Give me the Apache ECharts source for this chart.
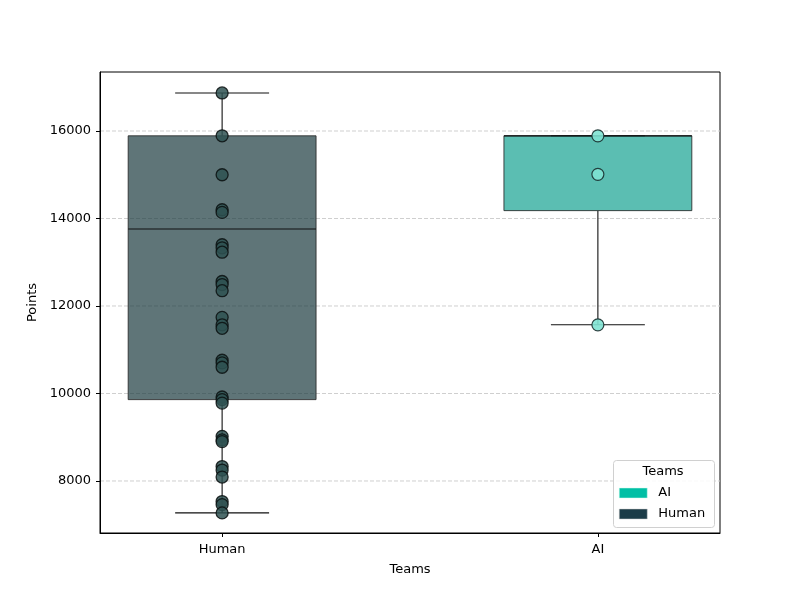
<!DOCTYPE html>
<html>
<head>
<meta charset="utf-8">
<script src="https://cdn.jsdelivr.net/npm/echarts@6/dist/echarts.min.js"></script>
<style>
  html, body { margin: 0; padding: 0; background: #fff; }
  #chart { width: 800px; height: 600px; }
</style>
</head>
<body>
<div id="chart"></div>
<script>
// teams on the x axis (position 0 and 1)
const teams = ['Human', 'AI']
const teamColors = ['#1b3b47', '#00bfa5']
const boxFills = ['rgba(27,58,62,0.7)', 'rgba(22,162,145,0.7)']
const pointFills = ['#2f5252', '#7fe3d3']

// box stats: [min whisker, q1, median, q3, max whisker]
const humanBox = [7270, 9860, 13760, 15890, 16870]
const aiBox = [11570, 14180, 15890, 15890, 15890]

// individual points
const humanPoints = [16870, 15890, 15000, 14200, 14140, 13400, 13330, 13230,
  12560, 12490, 12350, 11740, 11570, 11490, 10760, 10700, 10600,
  9920, 9860, 9780, 9020, 8940, 8900, 8330, 8250, 8090, 7530, 7460, 7270]
const aiPoints = [15890, 15010, 11570]

const yTicks = [8000, 10000, 12000, 14000, 16000]

const font = 'DejaVu Sans'
const chart = echarts.init(document.getElementById('chart'))

function renderBox (params, api) {
  const x = api.value(0)
  const half = 0.25, capHalf = 0.125
  const pt = (xx, yy) => api.coord([xx, yy])
  const lo = pt(x - half, api.value(2))
  const hi = pt(x + half, api.value(4))
  const line = (a, b) => ({
    type: 'line',
    shape: { x1: a[0], y1: a[1], x2: b[0], y2: b[1] },
    style: { stroke: '#111', lineWidth: 1.1 }
  })
  return {
    type: 'group',
    children: [
      line(pt(x, api.value(1)), pt(x, api.value(2))),
      line(pt(x, api.value(4)), pt(x, api.value(5))),
      line(pt(x - capHalf, api.value(1)), pt(x + capHalf, api.value(1))),
      line(pt(x - capHalf, api.value(5)), pt(x + capHalf, api.value(5))),
      {
        type: 'rect',
        shape: { x: lo[0], y: hi[1], width: hi[0] - lo[0], height: lo[1] - hi[1] },
        style: { fill: params.seriesName === 'Human' ? boxFills[0] : boxFills[1], stroke: 'rgba(40,40,40,0.85)', lineWidth: 1 }
      },
      line(pt(x - half, api.value(3)), pt(x + half, api.value(3)))
    ]
  }
}

chart.setOption({
  animation: false,
  textStyle: { fontFamily: font },
  grid: {
    left: 100, right: 80, top: 72, bottom: 67,
    show: true, borderColor: '#000', borderWidth: 1, backgroundColor: 'transparent'
  },
  xAxis: {
    type: 'value',
    min: -0.325,
    max: 1.325,
    name: 'Teams',
    nameLocation: 'middle',
    nameGap: 30,
    nameTextStyle: { color: '#000', fontSize: 13, fontFamily: font },
    axisLine: { show: true, onZero: false, lineStyle: { color: '#000', width: 1 } },
    axisTick: { show: true, length: 4, customValues: [0, 1], lineStyle: { color: '#000' } },
    axisLabel: {
      customValues: [0, 1],
      formatter: v => teams[Math.round(v)],
      color: '#000', fontSize: 13, margin: 10, fontFamily: font
    },
    splitLine: { show: false }
  },
  yAxis: {
    type: 'value',
    min: 6811,
    max: 17349,
    name: 'Points',
    nameLocation: 'middle',
    nameGap: 57,
    nameTextStyle: { color: '#000', fontSize: 13, fontFamily: font },
    axisLine: { show: true, onZero: false, lineStyle: { color: '#000', width: 1 } },
    axisTick: { show: true, length: 4, customValues: yTicks, lineStyle: { color: '#000' } },
    axisLabel: { customValues: yTicks, formatter: v => String(v), color: '#000', fontSize: 13, margin: 9, fontFamily: font },
    splitLine: { show: false }
  },
  legend: {
    data: [
      { name: 'AI', itemStyle: { color: teamColors[1], borderColor: '#cfe', borderWidth: 0.5 } },
      { name: 'Human', itemStyle: { color: teamColors[0], borderColor: '#ccc', borderWidth: 0.5 } }
    ],
    orient: 'vertical',
    left: 619,
    top: 486,
    padding: 0,
    icon: 'rect',
    itemWidth: 28,
    itemHeight: 10,
    itemGap: 7,
    selectedMode: false,
    z: 10,
    textStyle: { color: '#000', fontSize: 13, lineHeight: 14, fontFamily: font, padding: [0, 0, 0, 6] }
  },
  graphic: [
    {
      type: 'rect',
      left: 613, top: 460, z: 5,
      shape: { width: 101, height: 67, r: 3 },
      style: { fill: 'rgba(255,255,255,0.85)', stroke: '#d0d0d0', lineWidth: 1 }
    },
    {
      type: 'text',
      x: 663, y: 472, z: 6,
      style: { text: 'Teams', font: '13px "DejaVu Sans"', fill: '#000', align: 'center', verticalAlign: 'middle' }
    }
  ],
  series: [
    {
      type: 'custom',
      name: 'grid',
      silent: true,
      z: 0,
      data: yTicks,
      renderItem: (params, api) => {
        const cs = params.coordSys
        const y = api.coord([0, api.value(0)])[1]
        return {
          type: 'line',
          shape: { x1: cs.x, y1: y, x2: cs.x + cs.width, y2: y },
          style: { stroke: '#cfcfcf', lineWidth: 1, lineDash: [4, 2] }
        }
      }
    },
    {
      type: 'custom',
      name: 'Human',
      z: 2,
      data: [[0].concat(humanBox)],
      renderItem: renderBox
    },
    {
      type: 'custom',
      name: 'AI',
      z: 2,
      data: [[1].concat(aiBox)],
      renderItem: renderBox
    },
    {
      type: 'scatter',
      name: 'Human pts',
      z: 3,
      symbolSize: 12,
      data: humanPoints.map(v => [0, v]),
      itemStyle: { color: pointFills[0], borderColor: '#0a1010', borderWidth: 1.3, opacity: 0.85 }
    },
    {
      type: 'scatter',
      name: 'AI pts',
      z: 3,
      symbolSize: 12,
      data: aiPoints.map(v => [1, v]),
      itemStyle: { color: pointFills[1], borderColor: '#1a2f2f', borderWidth: 1.2, opacity: 0.9 }
    }
  ]
})
</script>
</body>
</html>
